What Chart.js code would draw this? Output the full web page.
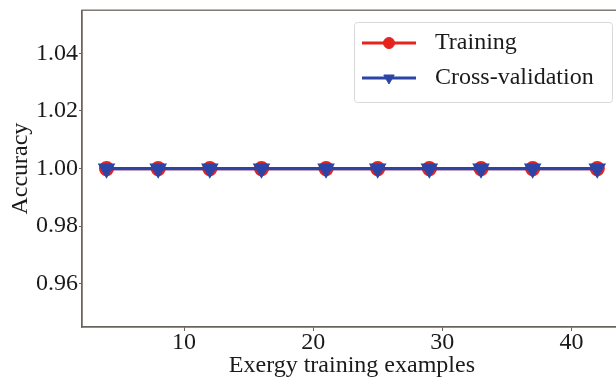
<!DOCTYPE html>
<html>
<head>
<meta charset="utf-8">
<script src="https://cdn.jsdelivr.net/npm/chart.js@4.4.1/dist/chart.umd.min.js"></script>
<style>
  html, body { margin: 0; padding: 0; background: #fff; overflow: hidden; }
  #wrap { width: 616px; height: 379px; overflow: hidden; position: relative; }
  #box { width: 632px; height: 379px; position: absolute; left: 0; top: 0; }
</style>
</head>
<body>
<div id="wrap"><div id="box"><canvas id="c"></canvas></div></div>
<script>
// ---- data ----
const trainSizes = [4, 8, 12, 16, 21, 25, 29, 33, 37, 42];
const trainingAccuracy = [1.0, 1.0, 1.0, 1.0, 1.0, 1.0, 1.0, 1.0, 1.0, 1.0];
const crossValAccuracy = [1.0, 1.0, 1.0, 1.0, 1.0, 1.0, 1.0, 1.0, 1.0, 1.0];
const xTicks = [10, 20, 30, 40];
const yTicks = [0.96, 0.98, 1.00, 1.02, 1.04];
const seriesNames = ['Training', 'Cross-validation'];
const xTitle = 'Exergy training examples';
const yTitle = 'Accuracy';

const RED = '#e5231f';
const BLUE = '#2c44a6';
const FONT = '"Liberation Serif", "Times New Roman", serif';
const AXIS = '#6b6460';

const toPts = (xs, ys) => xs.map((x, i) => ({ x: x, y: ys[i] }));

const framePlugin = {
  id: 'frame',
  beforeDatasetsDraw(chart) {
    const { ctx, chartArea: a } = chart;
    ctx.save();
    ctx.strokeStyle = AXIS;
    ctx.lineWidth = 1.3;
    ctx.strokeRect(a.left, a.top, a.right - a.left, a.bottom - a.top);
    ctx.restore();
  }
};

const legendPlugin = {
  id: 'customLegend',
  afterDraw(chart) {
    const { ctx } = chart;
    const bx = 354, by = 22, bw = 258, bh = 80;
    ctx.save();
    ctx.fillStyle = 'rgba(255,255,255,0.9)';
    ctx.strokeStyle = '#d8d8d8';
    ctx.lineWidth = 1;
    ctx.beginPath();
    ctx.roundRect(bx + 0.5, by + 0.5, bw, bh, 3);
    ctx.fill();
    ctx.stroke();
    const rows = [43, 78];
    const legendRadius = [5.5, 6];
    chart.data.datasets.forEach((ds, i) => {
      const y = rows[i];
      ctx.strokeStyle = ds.borderColor;
      ctx.lineWidth = ds.borderWidth;
      ctx.beginPath();
      ctx.moveTo(362, y);
      ctx.lineTo(416, y);
      ctx.stroke();
      ctx.fillStyle = ds.pointBackgroundColor;
      ctx.strokeStyle = ds.pointBorderColor;
      ctx.lineWidth = 1;
      Chart.helpers.drawPoint(ctx, {
        pointStyle: ds.pointStyle,
        radius: legendRadius[i],
        rotation: ds.pointRotation || 0,
        borderWidth: 1
      }, 389, y);
      ctx.fillStyle = '#1a1a1a';
      ctx.font = '24px ' + FONT;
      ctx.textBaseline = 'middle';
      ctx.textAlign = 'left';
      ctx.fillText(ds.label, 435, y);
    });
    ctx.restore();
  }
};

new Chart(document.getElementById('c'), {
  type: 'line',
  data: {
    datasets: [
      {
        label: seriesNames[0],
        data: toPts(trainSizes, trainingAccuracy),
        borderColor: RED,
        backgroundColor: RED,
        pointBackgroundColor: RED,
        pointBorderColor: RED,
        borderWidth: 3.2,
        pointStyle: 'circle',
        pointRadius: 6,
        order: 1
      },
      {
        label: seriesNames[1],
        data: toPts(trainSizes, crossValAccuracy),
        borderColor: BLUE,
        backgroundColor: BLUE,
        pointBackgroundColor: BLUE,
        pointBorderColor: BLUE,
        borderWidth: 3.2,
        pointStyle: 'triangle',
        pointRotation: 180,
        pointRadius: 7,
        order: 0
      }
    ]
  },
  options: {
    responsive: true,
    maintainAspectRatio: false,
    animation: false,
    devicePixelRatio: 1,
    layout: { padding: { left: 0, top: 10, right: 7, bottom: 0 } },
    plugins: { legend: { display: false }, tooltip: { enabled: false } },
    elements: { line: { tension: 0 } },
    scales: {
      x: {
        type: 'linear',
        min: 2.1,
        max: 43.9,
        afterBuildTicks(s) { s.ticks = xTicks.map(v => ({ value: v })); },
        afterFit(s) { s.height = 52; s.paddingLeft = 0; s.paddingRight = 0; },
        border: { display: true, color: AXIS, width: 1.3 },
        grid: { display: true, drawOnChartArea: false, drawTicks: true, tickLength: 4, color: AXIS },
        ticks: {
          color: '#1a1a1a',
          font: { family: FONT, size: 24 },
          padding: -3,
          maxRotation: 0,
          callback: v => String(v)
        },
        title: {
          display: true,
          text: xTitle,
          color: '#1a1a1a',
          font: { family: FONT, size: 24, lineHeight: 1 },
          padding: { top: 0, bottom: 1 }
        }
      },
      y: {
        type: 'linear',
        min: 0.945,
        max: 1.055,
        afterBuildTicks(s) { s.ticks = yTicks.map(v => ({ value: v })); },
        afterFit(s) { s.width = 82; s.paddingTop = 0; s.paddingBottom = 0; },
        border: { display: true, color: AXIS, width: 1.3 },
        grid: { display: true, drawOnChartArea: false, drawTicks: true, tickLength: 3, color: AXIS },
        ticks: {
          color: '#1a1a1a',
          font: { family: FONT, size: 24 },
          padding: 1,
          callback: v => Number(v).toFixed(2)
        },
        title: {
          display: true,
          text: yTitle,
          color: '#1a1a1a',
          font: { family: FONT, size: 24, lineHeight: 1 },
          padding: { top: 9, bottom: 0 }
        }
      }
    }
  },
  plugins: [framePlugin, legendPlugin]
});
</script>
</body>
</html>
